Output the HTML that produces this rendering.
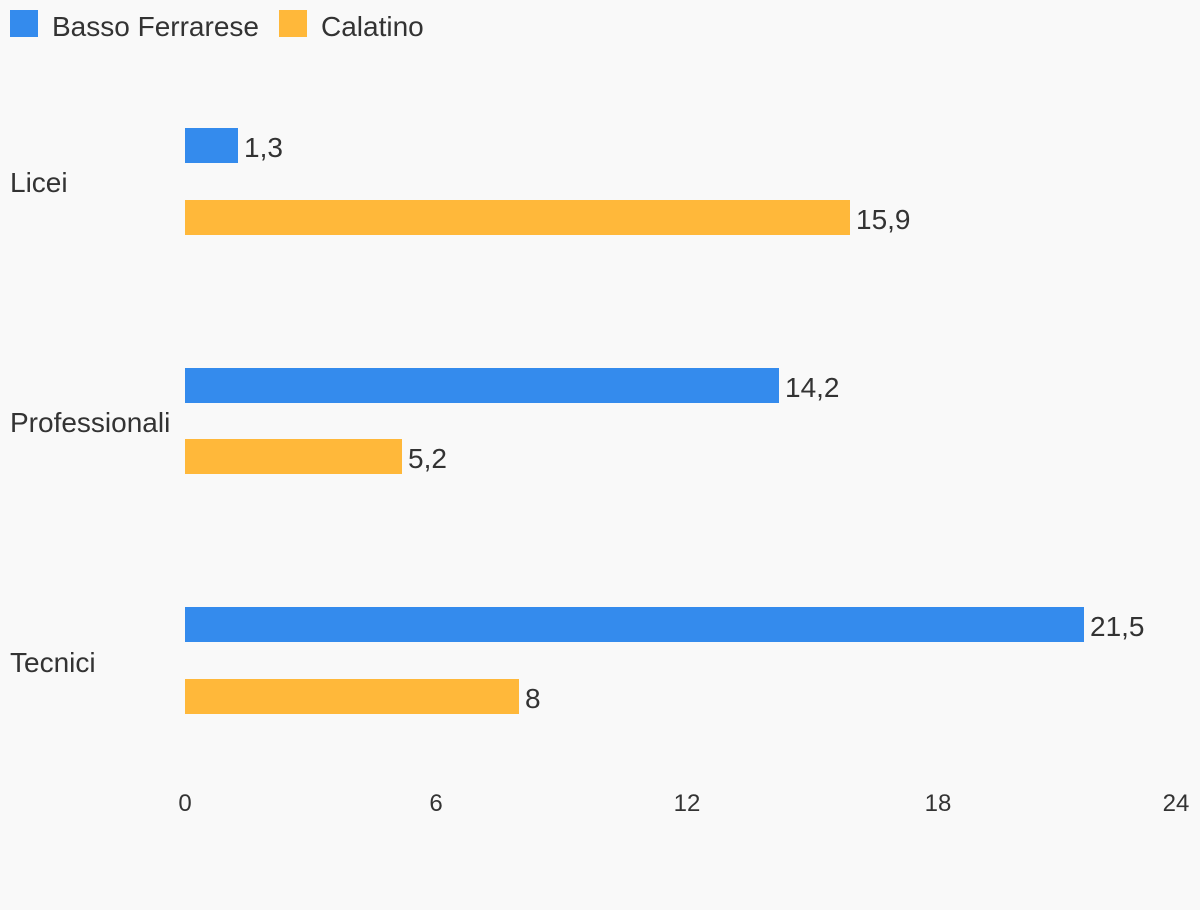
<!DOCTYPE html>
<html><head><style>
html,body{margin:0;padding:0;background:#f9f9f9;}
svg{display:block;}
text{font-family:"Liberation Sans",sans-serif;fill:#333;}
</style></head><body>
<svg width="1200" height="910" viewBox="0 0 1200 910">
<rect width="1200" height="910" fill="#f9f9f9"/>
<rect x="10" y="10" width="28" height="27" fill="#348bed"/>
<text x="52" y="36" font-size="28">Basso Ferrarese</text>
<rect x="279" y="10" width="28" height="27" fill="#ffb83a"/>
<text x="321" y="36" font-size="28">Calatino</text>

<text x="10" y="192" font-size="28">Licei</text>
<text x="10" y="432" font-size="28">Professionali</text>
<text x="10" y="672" font-size="28">Tecnici</text>

<rect x="185" y="128" width="53" height="35" fill="#348bed"/>
<text x="244" y="157" font-size="28">1,3</text>
<rect x="185" y="200" width="665" height="35" fill="#ffb83a"/>
<text x="856" y="229" font-size="28">15,9</text>

<rect x="185" y="368" width="594" height="35" fill="#348bed"/>
<text x="785" y="397" font-size="28">14,2</text>
<rect x="185" y="439" width="217" height="35" fill="#ffb83a"/>
<text x="408" y="468" font-size="28">5,2</text>

<rect x="185" y="607" width="899" height="35" fill="#348bed"/>
<text x="1090" y="636" font-size="28">21,5</text>
<rect x="185" y="679" width="334" height="35" fill="#ffb83a"/>
<text x="525" y="708" font-size="28">8</text>

<g font-size="24" text-anchor="middle">
<text x="185" y="811">0</text>
<text x="436" y="811">6</text>
<text x="687" y="811">12</text>
<text x="938" y="811">18</text>
<text x="1176" y="811">24</text>
</g>
</svg>
</body></html>
